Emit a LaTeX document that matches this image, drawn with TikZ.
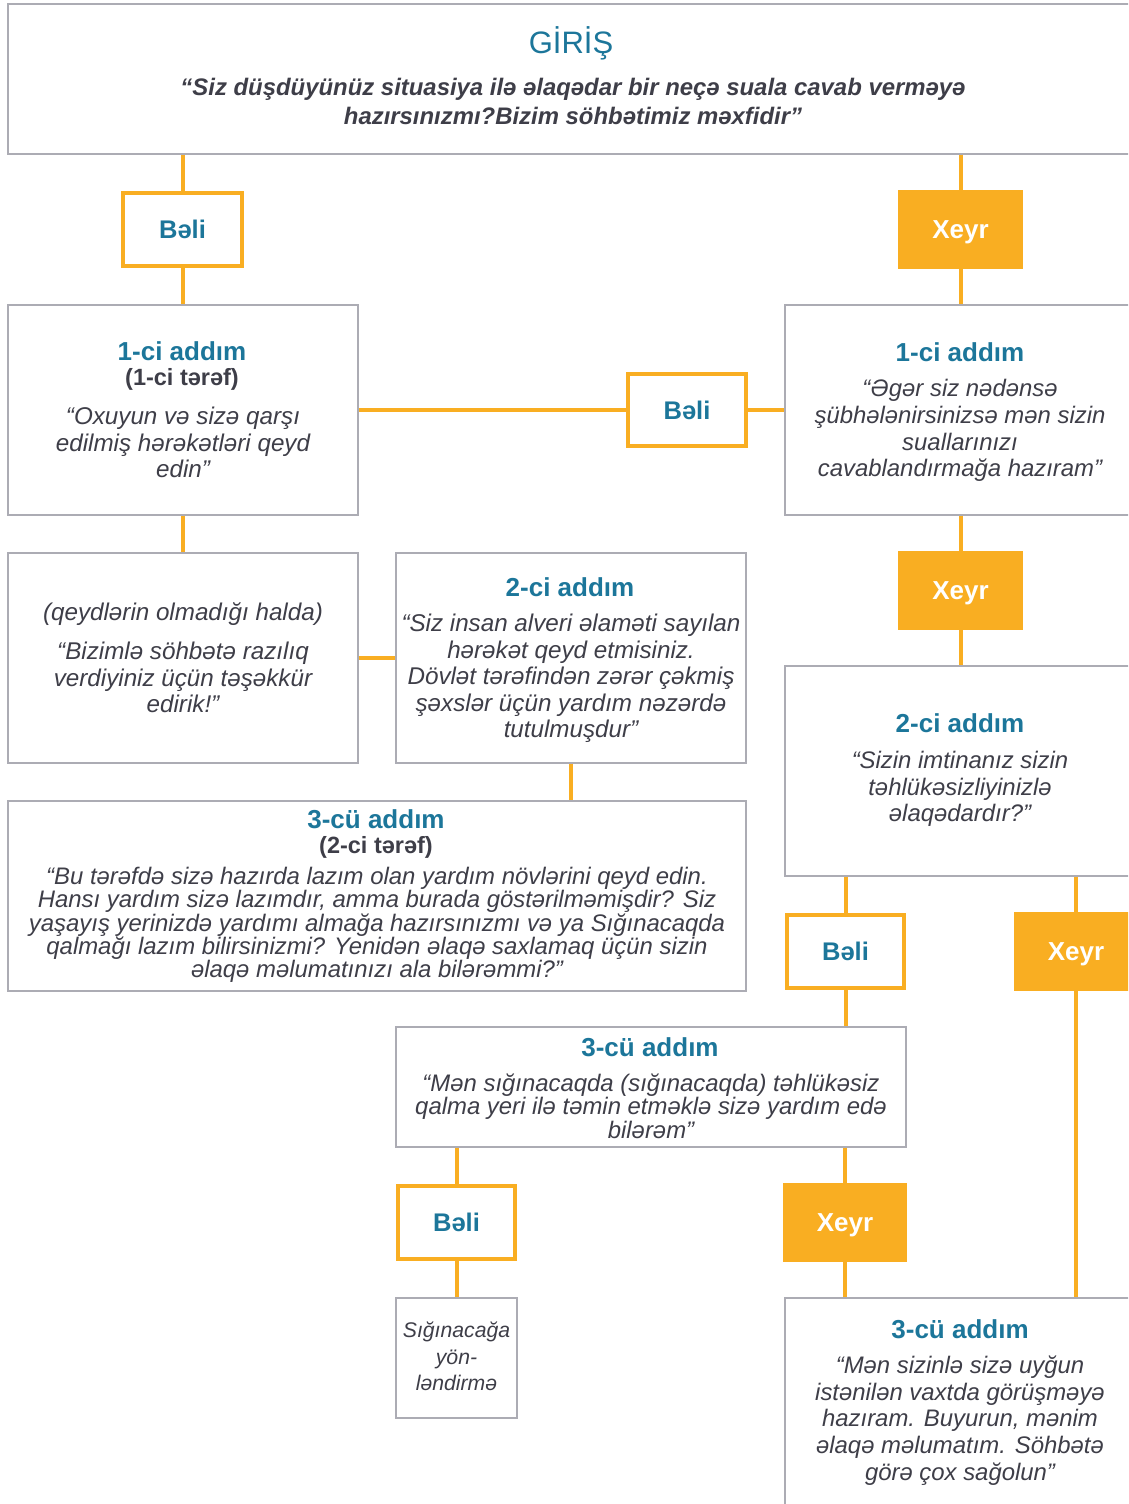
\documentclass[tikz,border=0pt]{standalone}
\usepackage{fontspec}
\setmainfont{Liberation Sans}
\definecolor{boxgray}{RGB}{172,172,180}
\definecolor{tealc}{RGB}{28,118,154}
\definecolor{orangec}{RGB}{249,174,34}
\definecolor{darkt}{RGB}{62,62,72}
\tikzset{
  gbox/.style={draw=boxgray, line width=1.4pt, fill=white, inner sep=0pt},
  yesbox/.style={draw=orangec, line width=4pt, fill=white, inner sep=0pt, text=tealc, text depth=0pt, font=\fontsize{25.5}{30}\selectfont\bfseries},
  nobox/.style={fill=orangec, inner sep=0pt, text=white, text depth=0pt, font=\fontsize{26}{30}\selectfont\bfseries},
  conn/.style={draw=orangec, line width=4pt},
  ttl/.style={text=tealc, inner sep=0pt, font=\fontsize{26}{30}\selectfont\bfseries},
  subt/.style={text=darkt, inner sep=0pt, font=\fontsize{23.5}{28}\selectfont\bfseries},
  bodyL/.style={text=darkt, inner sep=0pt, align=center, font=\fontsize{24.2}{26.5}\selectfont\itshape},
  bodyR/.style={text=darkt, inner sep=0pt, align=center, font=\fontsize{23.9}{26.7}\selectfont\itshape},
  bodyS/.style={text=darkt, inner sep=0pt, align=center, font=\fontsize{23.9}{23.3}\selectfont\itshape},
}
\begin{document}
\begin{tikzpicture}[x=1pt,y=-1pt]
\useasboundingbox (0,0) rectangle (1128,1504);
\clip (0,0) rectangle (1128,1504);
% boxes
\node[gbox, minimum width=1132, minimum height=150] (intro) at (574,79) {};
\node[yesbox, minimum width=119, minimum height=73] (b1) at (182.5,229.5) {Bəli};
\node[nobox, minimum width=125, minimum height=79] (x1) at (960.5,229.5) {Xeyr};
\node[gbox, minimum width=350, minimum height=210] (s1L) at (183,410) {};
\node[gbox, minimum width=355, minimum height=210] (s1R) at (962.5,410) {};
\node[yesbox, minimum width=118, minimum height=72] (bm) at (687,410) {Bəli};
\node[gbox, minimum width=350, minimum height=210] (qL) at (183,658) {};
\node[gbox, minimum width=350, minimum height=210] (s2L) at (571,658) {};
\node[gbox, minimum width=738, minimum height=190] (s3L) at (377,896) {};
\node[nobox, minimum width=125, minimum height=79] (x2) at (960.5,590.5) {Xeyr};
\node[gbox, minimum width=355, minimum height=210] (s2R) at (962.5,771) {};
\node[yesbox, minimum width=117, minimum height=73] (b3) at (845.5,951.5) {Bəli};
\node[nobox, minimum width=124, minimum height=79] (x3) at (1076,951.5) {Xeyr};
\node[gbox, minimum width=510, minimum height=120] (s3M) at (651,1087) {};
\node[yesbox, minimum width=117, minimum height=73] (b4) at (456.5,1222.5) {Bəli};
\node[gbox, minimum width=121, minimum height=120] (sig) at (456.5,1358) {};
\node[nobox, minimum width=124, minimum height=79] (x4) at (845,1222.5) {Xeyr};
\node[gbox, minimum width=355, minimum height=222] (s3R) at (962.5,1409) {};
% connectors
\draw[conn] (b1.north |- intro.south) -- (b1.north);
\draw[conn] (x1.north |- intro.south) -- (x1.north);
\draw[conn] (b1.south) -- (b1.south |- s1L.north);
\draw[conn] (x1.south) -- (x1.south |- s1R.north);
\draw[conn] (s1L.east) -- (bm.west);
\draw[conn] (bm.east) -- (s1R.west);
\draw[conn] (s1L.south) -- (qL.north);
\draw[conn] (qL.east) -- (s2L.west);
\draw[conn] (s2L.south) -- (s2L.south |- s3L.north);
\draw[conn] (x2.north |- s1R.south) -- (x2.north);
\draw[conn] (x2.south) -- (x2.south |- s2R.north);
\draw[conn] (b3.north |- s2R.south) -- (b3.north);
\draw[conn] (x3.north |- s2R.south) -- (x3.north);
\draw[conn] (b3.south) -- (b3.south |- s3M.north);
\draw[conn] (x3.south) -- (x3.south |- s3R.north);
\draw[conn] (b4.north |- s3M.south) -- (b4.north);
\draw[conn] (b4.south) -- (sig.north);
\draw[conn] (x4.north |- s3M.south) -- (x4.north);
\draw[conn] (x4.south) -- (x4.south |- s3R.north);
% texts
\node[text=tealc, inner sep=0pt, font=\fontsize{31}{36}\selectfont] (introT) at (571,43) {GİRİŞ};
\node[text=darkt, inner sep=0pt, align=center, font=\fontsize{23.9}{29}\selectfont\bfseries\itshape] (introQ) at (573,101.5) {“Siz düşdüyünüz situasiya ilə əlaqədar bir neçə suala cavab verməyə\\hazırsınızmı?Bizim söhbətimiz məxfidir”};
% s1L
\node[ttl] (s1LT) at (182,351) {1-ci addım};
\node[subt] (s1LS) at (182,379) {(1-ci tərəf)};
\node[bodyL] (s1LB) at (183,442.7) {“Oxuyun və sizə qarşı\\edilmiş hərəkətləri qeyd\\edin”};
% qL
\node[bodyL] (qLA) at (183,614) {(qeydlərin olmadığı halda)};
\node[bodyL] (qLB) at (183,677.5) {“Bizimlə söhbətə razılıq\\verdiyiniz üçün təşəkkür\\edirik!”};
% s2L
\node[ttl] (s2LT) at (570,587) {2-ci addım};
\node[bodyL] (s2LB) at (571,678.5) {“Siz insan alveri əlaməti sayılan\\hərəkət qeyd etmisiniz.\\Dövlət tərəfindən zərər çəkmiş\\şəxslər üçün yardım nəzərdə\\tutulmuşdur”};
% s3L
\node[ttl] (s3LT) at (376,819) {3-cü addım};
\node[subt] (s3LS) at (376,847) {(2-ci tərəf)};
\node[bodyS] (s3LB) at (377,925) {“Bu tərəfdə sizə hazırda lazım olan yardım növlərini qeyd edin.\\Hansı yardım sizə lazımdır, amma burada göstərilməmişdir? Siz\\yaşayış yerinizdə yardımı almağa hazırsınızmı və ya Sığınacaqda\\qalmağı lazım bilirsinizmi? Yenidən əlaqə saxlamaq üçün sizin\\əlaqə məlumatınızı ala bilərəmmi?”};
% s1R
\node[ttl] (s1RT) at (960,352) {1-ci addım};
\node[bodyR] (s1RB) at (960,430.5) {“Əgər siz nədənsə\\şübhələnirsinizsə mən sizin\\suallarınızı\\cavablandırmağa hazıram”};
% s2R
\node[ttl] (s2RT) at (960,723) {2-ci addım};
\node[bodyR] (s2RB) at (960,789) {“Sizin imtinanız sizin\\təhlükəsizliyinizlə\\əlaqədardır?”};
% s3M
\node[ttl] (s3MT) at (650,1047) {3-cü addım};
\node[bodyS, font=\fontsize{23.9}{23.5}\selectfont\itshape] (s3MB) at (651,1106) {“Mən sığınacaqda (sığınacaqda) təhlükəsiz\\qalma yeri ilə təmin etməklə sizə yardım edə\\bilərəm”};
% sig
\node[bodyR, font=\fontsize{21.2}{26.5}\selectfont\itshape] (sigB) at (456.5,1356.5) {Sığınacağa\\yön-\\ləndirmə};
% s3R
\node[ttl] (s3RT) at (960,1329) {3-cü addım};
\node[bodyR] (s3RB) at (960,1420.5) {“Mən sizinlə sizə uyğun\\istənilən vaxtda görüşməyə\\hazıram. Buyurun, mənim\\əlaqə məlumatım. Söhbətə\\görə çox sağolun”};
\end{tikzpicture}
\end{document}
